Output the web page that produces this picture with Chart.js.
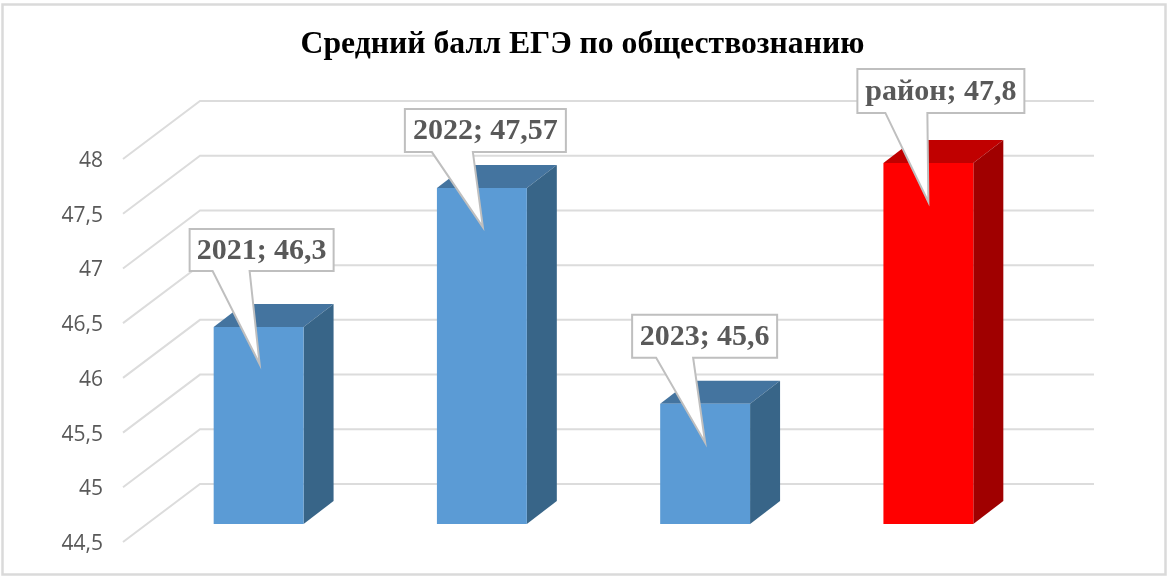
<!DOCTYPE html>
<html lang="ru">
<head>
<meta charset="utf-8">
<style>html,body{margin:0;padding:0;background:#fff}canvas{display:block}</style>
<script src="https://cdn.jsdelivr.net/npm/chart.js@4"></script>
</head>
<body>
<canvas id="c" width="1168" height="578"></canvas>
<script>
const categories = ['2021', '2022', '2023', 'район'];
const values = [46.3, 47.57, 45.6, 47.8];
const valueLabels = ['46,3', '47,57', '45,6', '47,8'];
const titleText = 'Средний балл ЕГЭ по обществознанию';
const axisMin = 44.5;
const axisMax = 48;

const faceColors = ['#5B9BD5', '#5B9BD5', '#5B9BD5', '#FF0000'];
const topColors = ['#44749F', '#44749F', '#44749F', '#C00000'];
const sideColors = ['#386588', '#386588', '#386588', '#A00000'];
const GRID = '#DCDCDC', TEXT = '#595959';
// oblique projection
const WALL = {dx: 77, dy: -58}, BAR_SHIFT = {dx: 24, dy: -18}, BAR_DEPTH = {dx: 30, dy: -23};
const WALL_RIGHT = 1094;
// callout layout relative to each bar's top centre: box left/top, tail base left/right, tip y
const callouts = [
  {l: -69, t: -98, r: 75, b: -56, a: -46, c: -9, tipx: 1, tip: 37},
  {l: -77, t: -79, r: 84, b: -36, a: -50, c: -9, tipx: 1, tip: 39},
  {l: -73, t: -89, r: 72, b: -46, a: -49, c: -12, tipx: 0, tip: 39},
  {l: -71, t: -94, r: 96, b: -50, a: -43, c: -1, tipx: 0, tip: 39}
];

const scene = {
  id: 'scene',
  afterLayout(chart) {
    chart.titleBlock.left = 0;
    chart.titleBlock.right = 1165;
  },
  beforeDraw(chart) {
    const ctx = chart.ctx;
    ctx.save();
    ctx.strokeStyle = '#DADADA';
    ctx.lineWidth = 2.5;
    ctx.strokeRect(2.5, 4.5, 1163, 570);
    ctx.restore();
  },
  beforeDatasetsDraw(chart) {
    const ctx = chart.ctx, y = chart.scales.y, left = chart.chartArea.left;
    ctx.save();
    ctx.strokeStyle = GRID;
    ctx.lineWidth = 2;
    y.ticks.forEach(t => {
      const py = y.getPixelForValue(t.value);
      ctx.beginPath();
      ctx.moveTo(left, py);
      ctx.lineTo(left + WALL.dx, py + WALL.dy);
      ctx.lineTo(WALL_RIGHT, py + WALL.dy);
      ctx.stroke();
    });
    ctx.translate(BAR_SHIFT.dx, BAR_SHIFT.dy);
    chart.getDatasetMeta(0).data.forEach((bar, i) => {
      const p = bar.getProps(['x', 'y', 'base', 'width'], true);
      const l = p.x - p.width / 2, r = p.x + p.width / 2;
      ctx.fillStyle = topColors[i];
      ctx.beginPath();
      ctx.moveTo(l, p.y);
      ctx.lineTo(l + BAR_DEPTH.dx, p.y + BAR_DEPTH.dy);
      ctx.lineTo(r + BAR_DEPTH.dx, p.y + BAR_DEPTH.dy);
      ctx.lineTo(r, p.y);
      ctx.closePath();
      ctx.fill();
      ctx.fillStyle = sideColors[i];
      ctx.beginPath();
      ctx.moveTo(r, p.y);
      ctx.lineTo(r + BAR_DEPTH.dx, p.y + BAR_DEPTH.dy);
      ctx.lineTo(r + BAR_DEPTH.dx, p.base + BAR_DEPTH.dy);
      ctx.lineTo(r, p.base);
      ctx.closePath();
      ctx.fill();
    });
    ctx.restore();
    ctx.save();
    ctx.translate(BAR_SHIFT.dx, BAR_SHIFT.dy);
  },
  afterDatasetsDraw(chart) {
    const ctx = chart.ctx;
    ctx.restore();
    ctx.save();
    chart.getDatasetMeta(0).data.forEach((bar, i) => {
      const p = bar.getProps(['x', 'y'], true);
      const cx = p.x + BAR_SHIFT.dx, top = p.y + BAR_SHIFT.dy, c = callouts[i];
      ctx.beginPath();
      ctx.moveTo(cx + c.l, top + c.t);
      ctx.lineTo(cx + c.r, top + c.t);
      ctx.lineTo(cx + c.r, top + c.b);
      ctx.lineTo(cx + c.c, top + c.b);
      ctx.lineTo(cx + c.tipx, top + c.tip);
      ctx.lineTo(cx + c.a, top + c.b);
      ctx.lineTo(cx + c.l, top + c.b);
      ctx.closePath();
      ctx.fillStyle = '#FFFFFF';
      ctx.fill();
      ctx.strokeStyle = '#BFBFBF';
      ctx.lineWidth = 2;
      ctx.lineJoin = 'miter';
      ctx.stroke();
      ctx.fillStyle = TEXT;
      ctx.font = 'bold 30px "Liberation Serif"';
      ctx.textAlign = 'center';
      ctx.textBaseline = 'middle';
      ctx.fillText(categories[i] + '; ' + valueLabels[i], cx + (c.l + c.r) / 2, top + (c.t + c.b) / 2 + 1);
    });
    ctx.restore();
  }
};

new Chart(document.getElementById('c'), {
  type: 'bar',
  data: {
    labels: categories,
    datasets: [{
      data: values,
      base: axisMin,
      backgroundColor: faceColors,
      borderWidth: 0,
      barPercentage: 90 / 223.5,
      categoryPercentage: 1,
      clip: false
    }]
  },
  options: {
    responsive: false,
    animation: false,
    layout: {padding: {left: 0, right: 152, top: 0, bottom: 36}},
    plugins: {
      legend: {display: false},
      tooltip: {enabled: false},
      title: {
        display: true,
        text: titleText,
        color: '#000000',
        font: {family: '"Liberation Serif"', size: 31.7, weight: 'bold', lineHeight: 1.2},
        padding: {top: 26, bottom: 95}
      }
    },
    scales: {
      x: {display: false},
      y: {
        min: axisMin,
        max: axisMax,
        afterFit(s) { s.width = 123; },
        grid: {display: false},
        border: {display: false},
        ticks: {
          stepSize: 0.5,
          padding: 12,
          labelOffset: 2,
          color: TEXT,
          font: {family: '"Open Sans"', size: 21},
          callback: v => String(v).replace('.', ',')
        }
      }
    }
  },
  plugins: [scene]
});
</script>
</body>
</html>
